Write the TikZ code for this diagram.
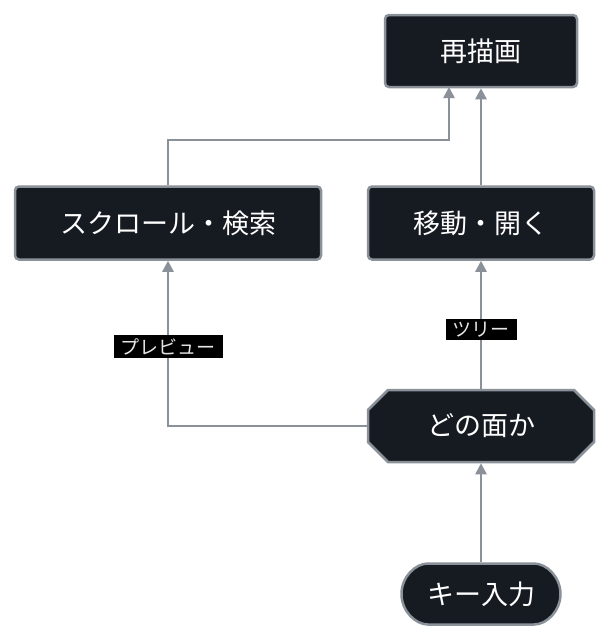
\documentclass[tikz,border=0pt]{standalone}
\usepackage{fontspec}
\setmainfont{Noto Sans CJK JP}
\usetikzlibrary{shapes.misc,arrows.meta}
\definecolor{nodefill}{HTML}{161B22}
\definecolor{edge}{HTML}{8B9199}
\begin{document}
\begin{tikzpicture}[x=1pt,y=-1pt,
  box/.style={draw=edge,line width=2.5pt,fill=nodefill,text=white,rounded corners=4pt,font=\fontsize{27}{30}\selectfont,inner sep=0pt},
  arr/.style={draw=edge,line width=2.5pt,-{Triangle[length=11pt,width=11pt]}},
  lab/.style={fill=black,text=white!80!gray,font=\fontsize{19}{21}\selectfont,inner xsep=7pt,inner ysep=3pt}]
\useasboundingbox[fill=white] (0,0) rectangle (609,640);
\node[box,minimum width=192pt,minimum height=72pt] (redraw) at (481,51) {再描画};
\node[box,minimum width=306pt,minimum height=73pt] (scroll) at (168,223) {スクロール・検索};
\node[box,minimum width=226pt,minimum height=73pt] (move) at (481,223) {移動・開く};
\node[box,rounded corners=0pt,chamfered rectangle,chamfered rectangle xsep=10pt,chamfered rectangle ysep=10pt,minimum width=226pt,minimum height=72pt] (which) at (481,426) {どの面か};
\node[box,rounded rectangle,minimum width=159pt,minimum height=61pt] (key) at (481,594) {キー入力};
\draw[arr] (key.north) -- (which.south);
\draw[arr] (which.north) -- node[lab,pos=0.46]{ツリー} (move.south);
\draw[arr] (which.west) -| node[lab,pos=0.74]{プレビュー} (scroll.south);
\draw[arr] (move.north) -- (redraw.south);
\coordinate (j) at (449,140);
\draw[arr] (scroll.north) |- (j) -- (449,87);
\end{tikzpicture}
\end{document}
